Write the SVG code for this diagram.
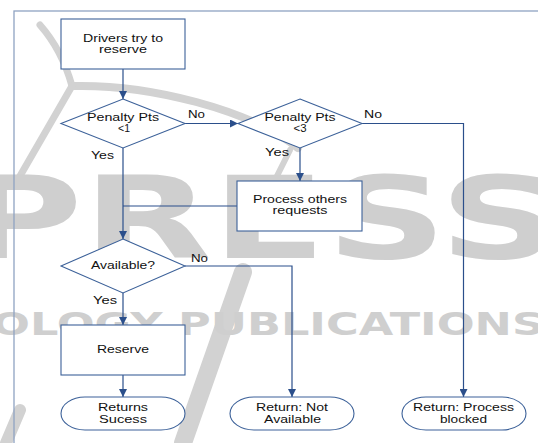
<svg xmlns="http://www.w3.org/2000/svg" width="538" height="443" viewBox="0 0 538 443">
<style>
.wm{fill:#cfcfcf;font-family:"DejaVu Sans","Liberation Sans",sans-serif;font-weight:bold}
.wl{fill:none;stroke:#d2d2d2;stroke-linecap:round}
.node{fill:#ffffff;stroke:#3c6199;stroke-width:1.1}
.t{font-family:"Liberation Sans",Arial,sans-serif;font-size:11.5px;fill:#111111;text-anchor:middle}
.lb{font-family:"Liberation Sans",Arial,sans-serif;font-size:11.5px;fill:#111111}
.c{fill:none;stroke:#2b4f8b;stroke-width:1.2}
</style>
<defs>
<marker id="ah" viewBox="0 0 10 10" refX="10" refY="5" markerWidth="8" markerHeight="8" markerUnits="userSpaceOnUse" orient="auto">
<path d="M0,0 L10,5 L0,10 Z" fill="#2b4f8b"/>
</marker>
</defs>
<rect width="538" height="443" fill="#ffffff"/>
<g id="watermark">
<path class="wl" stroke-width="7" d="M40,25 Q62,50 72,86"/>
<path class="wl" stroke-width="8" d="M72,86 C150,84 250,110 298,148"/>
<path class="wl" stroke-width="6" d="M290,150 L277,176"/>
<path class="wl" stroke-width="7" d="M72,86 L20,176"/>
<path class="wl" stroke-width="18" d="M243,272 L183,443"/>
<path class="wl" stroke-width="12" d="M20,410 L6,443"/>
<text class="wm" x="-40" y="258" font-size="114" textLength="600" lengthAdjust="spacingAndGlyphs">PRESS</text>
<text class="wm" x="-8" y="335" font-size="32" textLength="552" lengthAdjust="spacingAndGlyphs">OLOGY PUBLICATIONS</text>
</g>
<rect x="14" y="11" width="540" height="450" fill="none" stroke="#8fa3c2" stroke-width="1.3"/>
<g id="connectors">
<path class="c" d="M123,69 L123,99" marker-end="url(#ah)"/>
<path class="c" d="M185,123.5 L238,123.5" marker-end="url(#ah)"/>
<path class="c" d="M362,123.5 L463.5,123.5 L463.5,397" marker-end="url(#ah)"/>
<path class="c" d="M300,148 L300,181" marker-end="url(#ah)"/>
<path class="c" d="M237,206 L123,206"/>
<path class="c" d="M123,148 L123,239" marker-end="url(#ah)"/>
<path class="c" d="M185,266 L292,266 L292,397" marker-end="url(#ah)"/>
<path class="c" d="M123,293 L123,325" marker-end="url(#ah)"/>
<path class="c" d="M123,375 L123,397" marker-end="url(#ah)"/>
<text class="lb" x="188" y="118" textLength="17" lengthAdjust="spacingAndGlyphs">No</text>
<text class="lb" x="364" y="118" textLength="18" lengthAdjust="spacingAndGlyphs">No</text>
<text class="lb" x="91" y="159" textLength="23" lengthAdjust="spacingAndGlyphs">Yes</text>
<text class="lb" x="265" y="156" textLength="24" lengthAdjust="spacingAndGlyphs">Yes</text>
<text class="lb" x="191" y="262" textLength="17" lengthAdjust="spacingAndGlyphs">No</text>
<text class="lb" x="93" y="304" textLength="24" lengthAdjust="spacingAndGlyphs">Yes</text>
</g>
<g id="start">
<rect class="node" x="61" y="19" width="124" height="50"/>
<text class="t" x="123" y="41.5" textLength="80" lengthAdjust="spacingAndGlyphs">Drivers try to</text>
<text class="t" x="123" y="52.5" textLength="48" lengthAdjust="spacingAndGlyphs">reserve</text>
</g>
<g id="penalty1">
<polygon class="node" points="123,99 185,123.5 123,148 61,123.5"/>
<text class="t" x="123" y="121" textLength="72" lengthAdjust="spacingAndGlyphs">Penalty Pts</text>
<text class="t" x="124" y="131.5" textLength="12" lengthAdjust="spacingAndGlyphs">&lt;1</text>
</g>
<g id="penalty3">
<polygon class="node" points="300,99 362,123.5 300,148 238,123.5"/>
<text class="t" x="300" y="121" textLength="71" lengthAdjust="spacingAndGlyphs">Penalty Pts</text>
<text class="t" x="300" y="131.5" textLength="13" lengthAdjust="spacingAndGlyphs">&lt;3</text>
</g>
<g id="process">
<rect class="node" x="237" y="181" width="125" height="50"/>
<text class="t" x="300" y="203" textLength="94" lengthAdjust="spacingAndGlyphs">Process others</text>
<text class="t" x="300" y="214" textLength="55" lengthAdjust="spacingAndGlyphs">requests</text>
</g>
<g id="available">
<polygon class="node" points="123,239 185,266 123,293 61,266"/>
<text class="t" x="123" y="269" textLength="64" lengthAdjust="spacingAndGlyphs">Available?</text>
</g>
<g id="reserve">
<rect class="node" x="61" y="325" width="124" height="50"/>
<text class="t" x="123" y="353" textLength="52" lengthAdjust="spacingAndGlyphs">Reserve</text>
</g>
<g id="success">
<rect class="node" x="61" y="397" width="124" height="33" rx="24" ry="16.5"/>
<text class="t" x="123" y="411" textLength="50" lengthAdjust="spacingAndGlyphs">Returns</text>
<text class="t" x="123" y="423" textLength="48" lengthAdjust="spacingAndGlyphs">Sucess</text>
</g>
<g id="notavailable">
<rect class="node" x="230" y="397" width="124" height="33" rx="24" ry="16.5"/>
<text class="t" x="292" y="411" textLength="72" lengthAdjust="spacingAndGlyphs">Return: Not</text>
<text class="t" x="292.5" y="423" textLength="57" lengthAdjust="spacingAndGlyphs">Available</text>
</g>
<g id="blocked">
<rect class="node" x="402" y="397" width="124" height="33" rx="24" ry="16.5"/>
<text class="t" x="463.5" y="411" textLength="101" lengthAdjust="spacingAndGlyphs">Return: Process</text>
<text class="t" x="463.5" y="423" textLength="47" lengthAdjust="spacingAndGlyphs">blocked</text>
</g>
</svg>
